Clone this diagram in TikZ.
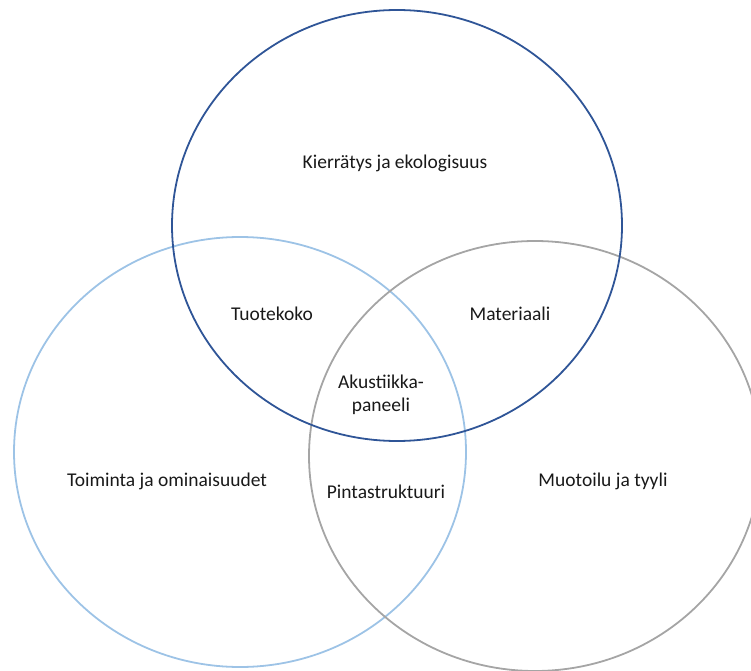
\documentclass[tikz,border=0pt]{standalone}
\usepackage{fontspec}
\setmainfont{Carlito}
\definecolor{topblue}{HTML}{2F5597}
\definecolor{leftblue}{HTML}{9DC3E6}
\definecolor{rightgray}{HTML}{A5A5A5}
\tikzset{
  ring/.style={line width=1.8pt},
  lbl/.style={font=\fontsize{19.5}{23.5}\selectfont, text=black!90, align=center, inner sep=0pt}
}
\begin{document}
\begin{tikzpicture}[x=1pt,y=1pt]
\useasboundingbox (0,0) rectangle (751,670);
\begin{scope}
\clip (0,0) rectangle (751,670);
\draw[ring, leftblue] (240,218) ellipse [x radius=226, y radius=215];
\draw[ring, rightgray] (535,214) ellipse [x radius=226, y radius=215];
\draw[ring, topblue] (397,444.5) ellipse [x radius=225, y radius=215.5];
\end{scope}
\node[lbl] (kier) at (395,507) {Kierrätys ja ekologisuus};
\node[lbl] (tuote) at (272,356) {Tuotekoko};
\node[lbl] (mat) at (510,356) {Materiaali};
\node[lbl] (aku) at (381,275) {Akustiikka-\\paneeli};
\node[lbl] (toim) at (167,189) {Toiminta ja ominaisuudet};
\node[lbl] (pinta) at (386,178) {Pintastruktuuri};
\node[lbl] (muot) at (603,189) {Muotoilu ja tyyli};
\end{tikzpicture}
\end{document}
